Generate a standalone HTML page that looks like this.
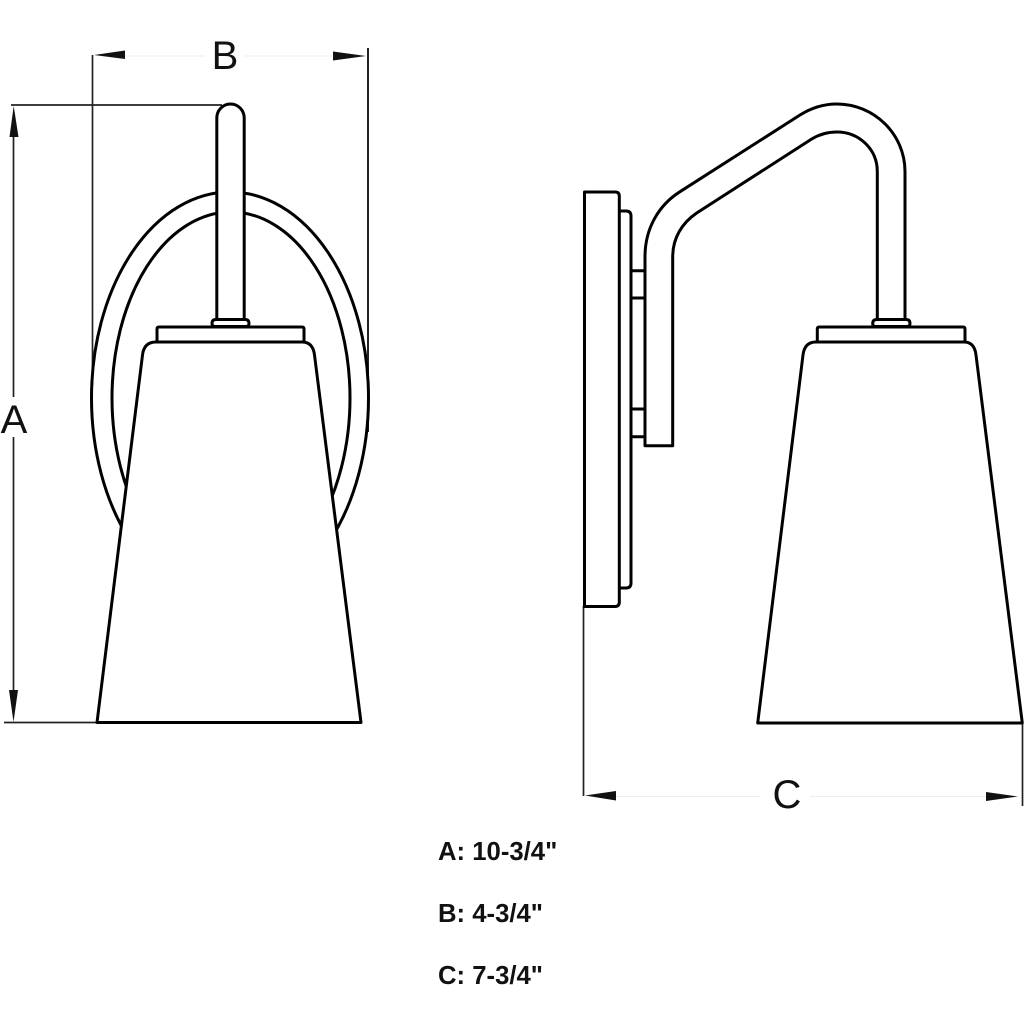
<!DOCTYPE html>
<html>
<head>
<meta charset="utf-8">
<style>
html,body{margin:0;padding:0;background:#fff;width:1024px;height:1024px;overflow:hidden}
svg{display:block}
text{font-family:"Liberation Sans",sans-serif;fill:#111}
</style>
</head>
<body>
<svg width="1024" height="1024" viewBox="0 0 1024 1024" xmlns="http://www.w3.org/2000/svg">
<rect width="1024" height="1024" fill="#fff"/>

<!-- dimension / extension lines -->
<g fill="none" stroke="#222" stroke-width="1.700">
  <path d="M92.500 55V385"/>
  <path d="M368 48V432" stroke-width="2"/>
  <path d="M11 105H222"/>
  <path d="M4 722.500H97"/>
  <path d="M13.500 125V397M13.500 437V700"/>
  <path d="M583.500 606V796"/>
  <path d="M1022.500 723V806"/>
</g>
<g fill="none" stroke="#eee" stroke-width="1">
  <path d="M125 56H205M245 56H332"/>
  <path d="M616 796.500H760M810 796.500H986"/>
</g>
<!-- arrowheads -->
<g fill="#111">
  <path d="M94 55L125 50.500V59Z"/>
  <path d="M366 56L333 51.500V60.500Z"/>
  <path d="M13.700 106L9.500 137H18.500Z"/>
  <path d="M13.500 722L9 690H18Z"/>
  <path d="M585 795.500L616 791V800.500Z"/>
  <path d="M1018 796.500L986 792V801Z"/>
</g>

<!-- front view -->
<g fill="none" stroke="#000" stroke-width="3" stroke-linejoin="round" stroke-linecap="round">
  <ellipse cx="230" cy="398" rx="138.500" ry="206"/>
  <ellipse cx="231" cy="398" rx="119" ry="186"/>
  <path d="M216.800 319.500V118A13.700 14 0 0 1 244.200 118V319.500Z" fill="#fff"/>
  <path d="M215 326.500H246Q249 326.500 249 323.500Q249 319.500 245 319.500H216Q212 319.500 212 323.500Q212 326.500 215 326.500Z" fill="#fff"/>
  <path d="M157 342V329Q157 327 159 327H302Q304 327 304 329V342Z" fill="#fff"/>
  <path d="M97 722.500L142.500 355Q144 342 156 342H302Q313 342 314.500 355L361 722.500Z" fill="#fff"/>
</g>

<!-- side view -->
<g fill="none" stroke="#000" stroke-width="3" stroke-linejoin="round" stroke-linecap="round">
  <path d="M619.300 211H626Q631 211 631 216V583Q631 588 626 588H619.300"/>
  <path d="M584.500 192H615Q619.300 192 619.300 196V602Q619.300 606.500 615 606.500H584.500Z" fill="#fff"/>
  <path d="M631 270.700H645M631 298H645M631 409H645M631 436.700H645"/>
  <path d="M645 445.700V256.700C645 228 659 205 680 191.700L800 115C812 107.500 824 104 836.700 104C874 104 905 134 905 171.700V319.500H877.300V171.700C877.300 149 859 132 836.700 132C828 132 820 134 811.700 139L696.700 213C682 223 672.700 238 672.700 256.700V445.700Z" fill="#fff"/>
  <path d="M875.500 326.500H907Q910 326.500 910 323.500Q910 319.500 906 319.500H877Q872.700 319.500 872.700 323.500Q872.700 326.500 875.500 326.500Z" fill="#fff"/>
  <path d="M817.300 342V329Q817.300 327 819.300 327H963Q965 327 965 329V342Z" fill="#fff"/>
  <path d="M757.700 723L803 355Q804.500 342 816 342H964Q974.500 342 976 355L1022.300 723Z" fill="#fff"/>
</g>

<!-- dimension letters -->
<text x="225" y="69" font-size="40" text-anchor="middle">B</text>
<text x="14" y="433" font-size="40" text-anchor="middle">A</text>
<text x="787" y="808" font-size="40" text-anchor="middle">C</text>

<!-- legend -->
<g font-weight="700" font-size="25.700">
  <text x="438" y="860">A: 10-3/4"</text>
  <text x="438" y="922">B: 4-3/4"</text>
  <text x="438" y="984">C: 7-3/4"</text>
</g>
</svg>
</body>
</html>
